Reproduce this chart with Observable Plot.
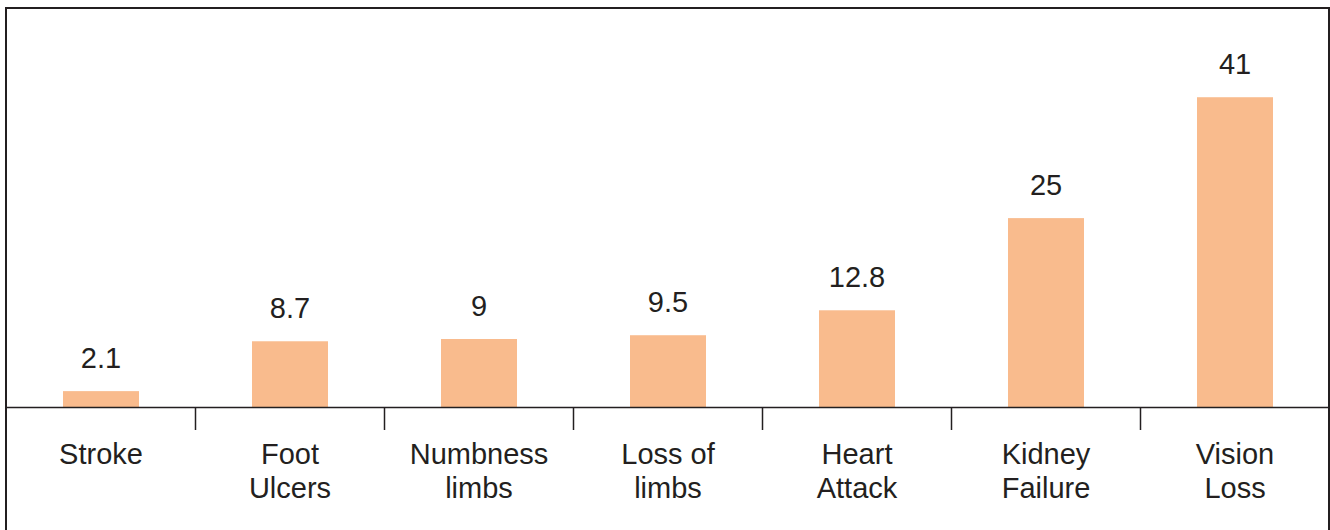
<!DOCTYPE html>
<html>
<head>
<meta charset="utf-8">
<script src="https://cdn.jsdelivr.net/npm/d3@7"></script>
<script src="https://cdn.jsdelivr.net/npm/@observablehq/plot@0.6"></script>
<style>
  html, body { margin: 0; padding: 0; background: #fff; }
  #wrap { position: relative; width: 1330px; height: 530px; overflow: hidden; }
  #border { position: absolute; left: 5px; top: 7px; width: 1325px; height: 600px; box-sizing: border-box; border: 2px solid #231f20; pointer-events: none; }
</style>
</head>
<body>
<div id="wrap"><div id="border"></div></div>
<script>
const categories = ["Stroke", "Foot Ulcers", "Numbness limbs", "Loss of limbs", "Heart Attack", "Kidney Failure", "Vision Loss"];
const labels = ["Stroke", "Foot\nUlcers", "Numbness\nlimbs", "Loss of\nlimbs", "Heart\nAttack", "Kidney\nFailure", "Vision\nLoss"];
const values = [2.1, 8.7, 9, 9.5, 12.8, 25, 41];
const valueLabels = ["2.1", "8.7", "9", "9.5", "12.8", "25", "41"];

const rows = categories.map((c, i) => ({i, category: c, label: labels[i], value: values[i], vlabel: valueLabels[i]}));
const n = categories.length;
const ink = "#231f20";
const font = "Liberation Sans, Arial, Helvetica, sans-serif";

const chart = Plot.plot({
  width: 1330,
  height: 530,
  marginLeft: 6,
  marginRight: 1,
  marginTop: 67,
  marginBottom: 123,
  style: {fontFamily: font, background: "transparent", overflow: "visible"},
  x: {domain: [0, n], axis: null, label: null},
  y: {domain: [0, 45], axis: null, label: null},
  marks: [
    Plot.rectY(rows, {x1: "i", x2: d => d.i + 1, y: "value", fill: "#f9bb8d", insetLeft: 57, insetRight: 56}),
    Plot.ruleY([0], {stroke: ink, strokeWidth: 1.5}),
    Plot.axisX({ticks: d3.range(1, n), tickSize: 23, tickFormat: () => "", label: null, stroke: ink, strokeWidth: 1.5, strokeOpacity: 1}),
    Plot.text(rows, {x: d => d.i + 0.5, y: "value", text: "vlabel", dy: -24, lineAnchor: "bottom", fontSize: 29, fill: ink}),
    Plot.text(rows, {x: d => d.i + 0.5, y: 0, text: "label", dy: 32, lineAnchor: "top", lineHeight: 1.17, fontSize: 29, fill: ink})
  ]
});
document.getElementById("wrap").prepend(chart);
</script>
</body>
</html>
